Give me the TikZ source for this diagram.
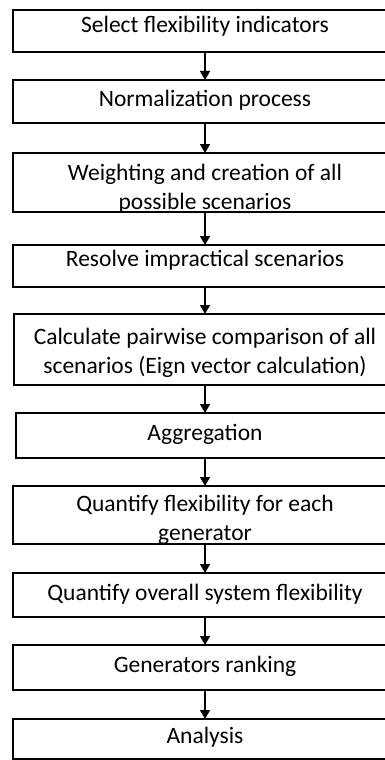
\documentclass[tikz,border=0pt]{standalone}
\usepackage{fontspec}
\setmainfont{Carlito}
\usetikzlibrary{arrows.meta}
\begin{document}
\begin{tikzpicture}[x=1pt,y=-1pt,
  box/.style={draw=black, line width=2pt, rectangle, inner sep=0pt, outer sep=0pt, minimum width=384pt},
  lbl/.style={anchor=base, inner sep=0pt, font=\fontsize{23.5}{29}\selectfont},
  arr/.style={-{Triangle[width=10pt,length=9pt]}, line width=1.5pt}]
\useasboundingbox (0,0) rectangle (385,760);
\clip (0,0) rectangle (385,760);
\fill[white] (0,0) rectangle (385,760);
% labels (drawn first; overflowing parts are masked below)
\node[lbl] (t1) at (205,33) {Select flexibility indicators};
\node[lbl] (t2) at (205,106) {Normalization process};
\node[lbl] (t3a) at (205,180) {Weighting and creation of all};
\node[lbl] (t3b) at (205,209) {possible scenarios};
\node[lbl] (t4) at (205,266) {Resolve impractical scenarios};
\node[lbl] (t5a) at (205,344) {Calculate pairwise comparison of all};
\node[lbl] (t5b) at (205,373) {scenarios (Eign vector calculation)};
\node[lbl] (t6) at (205,440) {Aggregation};
\node[lbl] (t7a) at (205,511) {Quantify flexibility for each};
\node[lbl] (t7b) at (205,540) {generator};
\node[lbl] (t8) at (205,600) {Quantify overall system flexibility};
\node[lbl] (t9) at (205,672) {Generators ranking};
\node[lbl] (t10) at (205,743) {Analysis};
% masks hiding the text that runs below boxes 3 and 7
\fill[white] (0,213) rectangle (385,222);
\fill[white] (0,545) rectangle (385,554);
% boxes (centred at x = 205, right edges run past the picture)
\node[box, minimum height=42pt] (b1) at (205,31) {};
\node[box, minimum height=43pt] (b2) at (205,101.5) {};
\node[box, minimum height=59pt] (b3) at (205,182.5) {};
\node[box, minimum height=42pt] (b4) at (205,266) {};
\node[box, minimum width=382pt, minimum height=71pt] (b5) at (205,349.5) {};
\node[box, minimum width=378pt, minimum height=45pt] (b6) at (205,435.5) {};
\node[box, minimum height=58pt] (b7) at (205,515) {};
\node[box, minimum height=44pt] (b8) at (205,595) {};
\node[box, minimum height=45pt] (b9) at (205,667.5) {};
\node[box, minimum height=40pt] (b10) at (205,739) {};
% arrows
\draw[arr] (b1.south) -- (b2.north);
\draw[arr] (b2.south) -- (b3.north);
\draw[arr] (b3.south) -- (b4.north);
\draw[arr] (b4.south) -- (b5.north);
\draw[arr] (b5.south) -- (b6.north);
\draw[arr] (b6.south) -- (b7.north);
\draw[arr] (b7.south) -- (b8.north);
\draw[arr] (b8.south) -- (b9.north);
\draw[arr] (b9.south) -- (b10.north);
\end{tikzpicture}
\end{document}
